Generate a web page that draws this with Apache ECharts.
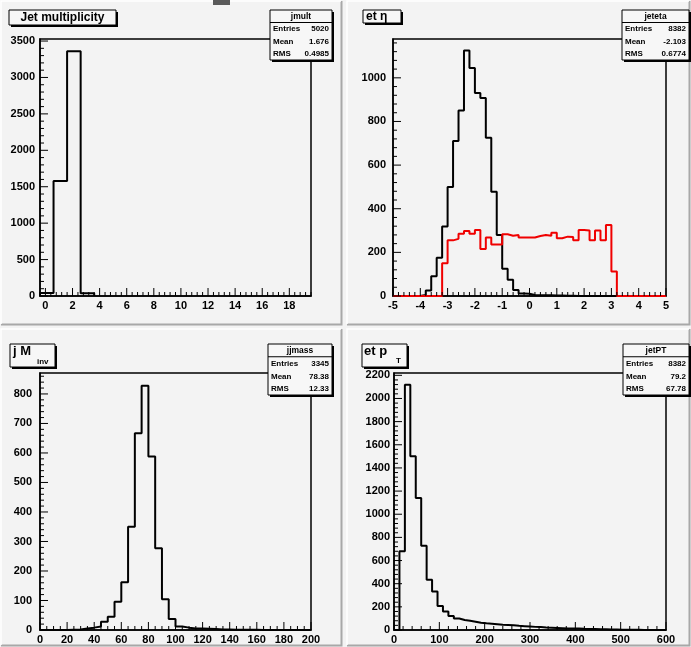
<!DOCTYPE html>
<html><head><meta charset="utf-8">
<script src="https://cdn.jsdelivr.net/npm/echarts@6/dist/echarts.min.js"></script>
<style>html,body{margin:0;padding:0;background:#f3f3f3}#c{width:691px;height:647px}</style>
</head><body><div id="c"></div>
<script>
// ---------- DATA ----------
// Panel 1: jet multiplicity (bins of width 1)
const multLow = -0.4, multWidth = 1;
const multCounts = [40, 1580, 3360, 38];
const multXTicks = [0, 2, 4, 6, 8, 10, 12, 14, 16, 18];

// Panel 2: jet eta (50 bins, -5..5)
const etaLow = -5, etaWidth = 0.2;
const etaBlack = [0,0,0,0,0, 5,25,90,175,318, 500,710,850,1125,1045, 930,908,725,478,280, 125,75,28,12,10, 5,4,3,3,2, 2,1,1,0,0, 0,0,0,0,0, 0,0,0,0,0, 0,0,0,0,0];
const etaRed = [0,0,0,0,0, 0,0,0,0,150, 255,262,285,298,285, 302,215,268,236,236, 283,276,280,268,268, 268,275,280,276,290, 265,272,270,255,302, 300,255,300,255,325, 112,0,0,0,0, 0,0,0,0,0];
const etaXTicks = [-5, -4, -3, -2, -1, 0, 1, 2, 3, 4, 5];

// Panel 3: dijet invariant mass (40 bins, 0..200)
const massLow = 0, massWidth = 5;
const massCounts = [0,0,0,0,1, 2,5,8,12,28, 45,96,162,350,667, 828,588,277,104,37, 12,8,5,5,4, 3,2,2,1,1, 1,1,0,0,0, 0,0,0,0,0];
const massXTicks = [0, 20, 40, 60, 80, 100, 120, 140, 160, 180, 200];

// Panel 4: jet pT (50 bins, 0..600)
const ptLow = 0, ptWidth = 12;
const ptCounts = [0,680,2118,1500,1140, 727,433,332,208,160, 120,100,87,80,72, 62,58,55,50,45, 43,40,36,33,30, 27,25,22,20,18, 16,14,13,12,10, 9,8,7,6,5, 4,3,2,2,2, 1,1,1,1,1];
const ptXTicks = [0, 100, 200, 300, 400, 500, 600];

// stats boxes
const statNames = ['jmult', 'jeteta', 'jjmass', 'jetPT'];
const statEntries = ['5020', '8382', '3345', '8382'];
const statMean = ['1.676', '-2.103', '78.38', '79.2'];
const statRMS = ['0.4985', '0.6774', '12.33', '67.78'];

// ---------- helpers ----------
function stepPts(low, width, counts) {
  const pts = [[low, 0]];
  counts.forEach((v, i) => { pts.push([low + i * width, v]); pts.push([low + (i + 1) * width, v]); });
  pts.push([low + counts.length * width, 0]);
  return pts;
}
function range(a, b, s) { const r = []; const n = Math.round((b - a) / s); for (let i = 0; i <= n; i++) r.push(+(a + i * s).toFixed(6)); return r; }
const plain = v => String(+(+v).toFixed(6));

const FONT = 'Liberation Sans';
const grids = [
  { left: 40, top: 39, width: 271, height: 257 },
  { left: 393, top: 39, width: 273, height: 257 },
  { left: 40, top: 373, width: 271, height: 257 },
  { left: 394, top: 373, width: 272, height: 257 }
];
const xCfg = [
  { min: -0.4, max: 19.6, major: multXTicks, minor: range(-0.4, 19.6, 0.4) },
  { min: -5, max: 5, major: etaXTicks, minor: range(-5, 5, 0.2) },
  { min: 0, max: 200, major: massXTicks, minor: range(0, 200, 5) },
  { min: 0, max: 600, major: ptXTicks, minor: range(0, 600, 20) }
];
const yCfg = [
  { max: 3528, major: 500, minor: 100, margin: 5 },
  { max: 1178, major: 200, minor: 40, margin: 7 },
  { max: 871, major: 100, minor: 20, margin: 8 },
  { max: 2220, major: 200, minor: 40, margin: 4 }
];

const xAxes = [], yAxes = [], series = [];
grids.forEach((g, i) => {
  const xc = xCfg[i], yc = yCfg[i];
  xAxes.push({ gridIndex: i, type: 'value', position: 'bottom', min: xc.min, max: xc.max,
    axisLine: { show: true, onZero: false, lineStyle: { color: '#000', width: 1.5 } },
    axisTick: { show: false },
    axisLabel: { show: true, customValues: xc.major, formatter: plain, color: '#000', fontFamily: FONT, fontWeight: 'bold', fontSize: 11, margin: 4, showMinLabel: true, showMaxLabel: true },
    splitLine: { show: false } });
  const yMaj = range(0, Math.floor(yc.max / yc.major) * yc.major, yc.major);
  yAxes.push({ gridIndex: i, type: 'value', position: 'left', min: 0, max: yc.max,
    axisLine: { show: true, onZero: false, lineStyle: { color: '#000', width: 1.5 } },
    axisTick: { show: false },
    axisLabel: { show: true, customValues: yMaj, formatter: plain, color: '#000', fontFamily: FONT, fontWeight: 'bold', fontSize: 11, margin: yc.margin },
    splitLine: { show: false } });
});
function hist(i, pts, color) {
  series.push({ type: 'line', xAxisIndex: i, yAxisIndex: i, data: pts, showSymbol: false, symbol: 'none',
    lineStyle: { color: color, width: 2 }, animation: false, silent: true, clip: true, z: 3 });
}
// tick marks drawn through the axes' own scales
function ticks(i, dir, values, len) {
  const xmin = xCfg[i].min;
  series.push({ type: 'custom', coordinateSystem: 'cartesian2d', xAxisIndex: i, yAxisIndex: i,
    data: values.map(v => dir === 'x' ? [v, 0] : [xmin, v]), encode: { x: 0, y: 1 },
    clip: false, silent: true, animation: false, z: 4,
    renderItem: (params, api) => {
      const p = api.coord([api.value(0), api.value(1)]);
      const q = dir === 'x' ? [p[0], p[1] - len] : [p[0] + len, p[1]];
      return { type: 'line', shape: { x1: p[0], y1: p[1], x2: q[0], y2: q[1] }, style: { stroke: '#000', lineWidth: 1 } };
    } });
}
hist(0, stepPts(multLow, multWidth, multCounts), '#000');
hist(1, stepPts(etaLow, etaWidth, etaBlack), '#000');
hist(1, stepPts(etaLow, etaWidth, etaRed), '#f00000');
hist(2, stepPts(massLow, massWidth, massCounts), '#000');
hist(3, stepPts(ptLow, ptWidth, ptCounts), '#000');
grids.forEach((g, i) => {
  const xc = xCfg[i], yc = yCfg[i];
  ticks(i, 'x', xc.major, 8);
  ticks(i, 'x', xc.minor.filter(v => !xc.major.some(m => Math.abs(m - v) < 1e-6)), 4);
  const yMaj = range(0, Math.floor(yc.max / yc.major) * yc.major, yc.major);
  const yMin = range(0, Math.floor(yc.max / yc.minor) * yc.minor, yc.minor);
  ticks(i, 'y', yMaj, 8);
  ticks(i, 'y', yMin.filter(v => !yMaj.includes(v)), 4);
});

// ---------- decorations (pads, titles, stats) ----------
const gfx = [];
const pads = [[0, 0, 343, 326], [346, 0, 345, 326], [0, 328, 343, 319], [346, 328, 345, 319]];
pads.forEach(p => {
  gfx.push({ type: 'rect', shape: { x: p[0], y: p[1], width: p[2], height: p[3] }, style: { fill: '#f3f3f3' }, z: -10 });
  gfx.push({ type: 'polyline', shape: { points: [[p[0] + 1, p[1] + p[3] - 1.5], [p[0] + p[2] - 1.5, p[1] + p[3] - 1.5], [p[0] + p[2] - 1.5, p[1] + 1]] }, style: { stroke: '#a8a8a8', lineWidth: 2, fill: null }, z: -9 });
  gfx.push({ type: 'polyline', shape: { points: [[p[0] + 1, p[1] + p[3] - 2], [p[0] + 1, p[1] + 1], [p[0] + p[2] - 2, p[1] + 1]] }, style: { stroke: '#ffffff', lineWidth: 1.5, fill: null }, z: -9 });
});
gfx.push({ type: 'rect', shape: { x: 213, y: 0, width: 17, height: 5 }, style: { fill: '#5a5a5a' }, z: 5 });

function box(x, y, w, h) {
  gfx.push({ type: 'rect', shape: { x: x + 2, y: y + 2, width: w, height: h }, style: { fill: '#000' }, z: 10 });
  gfx.push({ type: 'rect', shape: { x: x, y: y, width: w, height: h }, style: { fill: '#f7f7f7', stroke: '#000', lineWidth: 1 }, z: 11 });
}
function txt(x, y, s, size, align, extra) {
  gfx.push({ type: 'text', x: x, y: y, z: 12, style: Object.assign({ text: s, fill: '#000', font: 'bold ' + size + 'px "' + FONT + '"', align: align || 'left', verticalAlign: 'middle' }, extra || {}) });
}
// titles
box(9, 10, 107, 15); txt(62.5, 18, 'Jet multiplicity', 12, 'center');
box(363, 10, 38, 13); txt(366, 17, 'et η', 12, 'left');
box(10, 344, 45, 23); txt(13, 351, 'j M', 13, 'left'); txt(37, 362, 'inv', 8, 'left');
box(362, 344, 45, 23); txt(364, 351, 'et p', 13, 'left'); txt(396, 361, 'T', 8, 'left');
// stats boxes
const statPos = [[270, 10, 62, 50], [622, 10, 67, 50], [268, 344, 64, 51], [623, 344, 66, 51]];
statPos.forEach((p, i) => {
  const [x, y, w, h] = p;
  box(x, y, w, h);
  const rh = h / 4;
  gfx.push({ type: 'line', shape: { x1: x, y1: y + rh, x2: x + w, y2: y + rh }, style: { stroke: '#000', lineWidth: 1 }, z: 12 });
  txt(x + w / 2, y + rh / 2 + 0.5, statNames[i], 8.5, 'center');
  const rows = [['Entries', statEntries[i]], ['Mean', statMean[i]], ['RMS', statRMS[i]]];
  rows.forEach((r, k) => {
    const yy = y + rh * (k + 1.5) + 0.5;
    txt(x + 3, yy, r[0], 8, 'left');
    txt(x + w - 3, yy, r[1], 8, 'right');
  });
});

const chart = echarts.init(document.getElementById('c'), null, { renderer: 'canvas' });
chart.setOption({
  animation: false,
  backgroundColor: '#f3f3f3',
  grid: grids.map(g => Object.assign({ show: true, borderColor: '#000', borderWidth: 1.5, backgroundColor: 'transparent', containLabel: false }, g)),
  xAxis: xAxes, yAxis: yAxes, series: series, graphic: gfx
});
</script></body></html>
